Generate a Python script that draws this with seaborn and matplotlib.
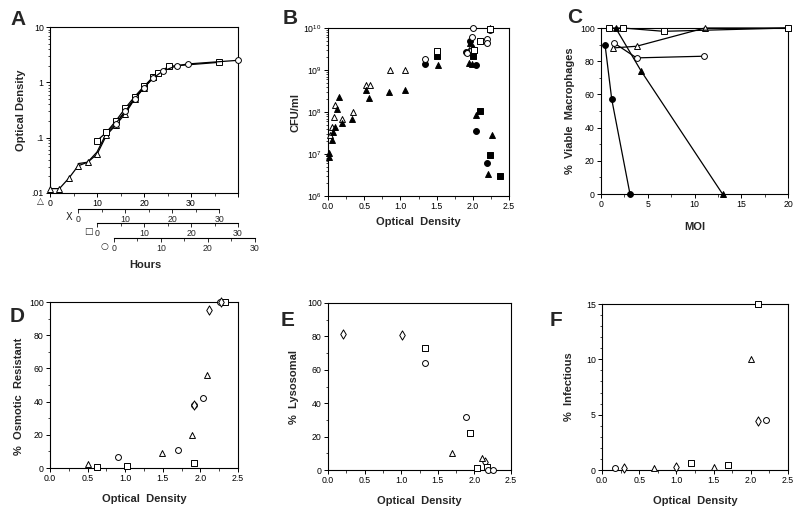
import matplotlib
matplotlib.use("Agg")
import matplotlib.pyplot as plt
import seaborn as sns
from matplotlib.ticker import MultipleLocator, FixedLocator, FixedFormatter, LogLocator, NullFormatter

sns.set_theme(style="white")
plt.rcParams["font.family"] = ["Liberation Sans", "DejaVu Sans"]
plt.rcParams["mathtext.fontset"] = "custom"
plt.rcParams["mathtext.rm"] = "Liberation Sans"

# ---------------- Panel A (hours, each series on its own time scale) -------------
a_offsets = {"tri": 0.0, "x": 6.0, "sq": 10.0, "circ": 13.6}
a_tri_hours = [0, 2, 4, 6, 8, 10, 12, 14, 16, 18, 20, 22]
a_tri_od = [0.012, 0.012, 0.0185, 0.031, 0.036, 0.05, 0.11, 0.17, 0.27, 0.5, 0.8, 1.25]
a_x_hours = [0, 2, 4, 6, 8, 10, 12, 14, 16]
a_x_od = [0.034, 0.036, 0.055, 0.12, 0.18, 0.3, 0.52, 0.82, 1.27]
a_sq_hours = [0, 2, 4, 6, 8, 10, 12, 13, 15.4, 26]
a_sq_od = [0.088, 0.125, 0.2, 0.34, 0.55, 0.85, 1.25, 1.5, 1.95, 2.3]
a_circ_hours = [0.4, 2.4, 4.4, 6.4, 8.4, 10.4, 13.4, 15.8, 26.4]
a_circ_od = [0.18, 0.3, 0.5, 0.8, 1.2, 1.6, 2.0, 2.15, 2.5]

# ---------------- Panel B ----------------
b_otri_x = [0.03, 0.06, 0.08, 0.10, 0.20, 0.34, 0.53, 0.58, 0.85, 1.06, 1.95, 2.0, 2.2, 2.24]
b_otri_y = [2.8e7, 4.4e7, 7.4e7, 1.45e8, 6.9e7, 1e8, 4.3e8, 4.3e8, 1e9, 1e9, 3e9, 3e9, 5.3e9, 1e10]
b_ftri_x = [0.01, 0.02, 0.05, 0.07, 0.09, 0.12, 0.15, 0.19, 0.33, 0.53, 0.56, 0.84, 1.06,
            1.52, 1.95, 1.99, 1.96, 2.0, 2.04, 2.26, 2.21]
b_ftri_y = [1.05e7, 8.7e6, 2.1e7, 3.3e7, 4.4e7, 1.2e8, 2.3e8, 5.5e7, 6.7e7, 3.3e8, 2.2e8, 3e8, 3.3e8,
            1.3e9, 1.45e9, 1.4e9, 4.4e9, 3.5e9, 8.7e7, 2.9e7, 3.4e6]
b_fcirc_x = [1.34, 1.91, 1.96, 2.05, 2.05, 2.2]
b_fcirc_y = [1.4e9, 2.7e9, 5.0e9, 1.35e9, 3.6e7, 6.1e6]
b_fsq_x = [1.5, 2.0, 2.1, 2.24, 2.37]
b_fsq_y = [2.1e9, 2.2e9, 1.04e8, 9.3e6, 3e6]
b_ocirc_x = [1.34, 1.92, 1.99, 2.0, 1.99, 2.2, 2.2, 2.24]
b_ocirc_y = [1.8e9, 2.6e9, 6.0e9, 1.0e10, 3e9, 5.6e9, 4.3e9, 9e9]
b_osq_x = [1.5, 2.1, 2.01, 2.24]
b_osq_y = [2.8e9, 4.8e9, 3e9, 9.5e9]

# ---------------- Panel C ----------------
c_fcirc_moi = [0.43, 1.15, 3.1]
c_fcirc_pct = [90, 57, 0]
c_ftri_moi = [1.57, 4.3, 13]
c_ftri_pct = [100, 74, 0]
c_otri_moi = [1.32, 3.8, 11.1, 20]
c_otri_pct = [88, 89, 100, 100]
c_ocirc_moi = [1.39, 3.8, 11]
c_ocirc_pct = [91, 82, 83]
c_osq_moi = [0.86, 2.35, 6.7, 20]
c_osq_pct = [100, 100, 98, 100]

# ---------------- Panel D ----------------
d_tri_x = [0.5, 1.49, 1.89, 2.09]
d_tri_y = [2.4, 9, 20, 56]
d_sq_x = [0.62, 1.03, 1.91, 2.33]
d_sq_y = [0.4, 1.4, 3, 100]
d_circ_x = [0.91, 1.70, 2.03, 2.26, 1.91]
d_circ_y = [6.4, 11, 42, 100, 38]
d_dia_x = [1.91, 2.12, 2.27]
d_dia_y = [38, 95, 100]

# ---------------- Panel E ----------------
e_dia_x = [0.2, 1.01, 2.14]
e_dia_y = [81.4, 81, 4.6]
e_sq_x = [1.32, 1.94, 2.03, 2.17]
e_sq_y = [73, 22, 1, 2]
e_circ_x = [1.33, 1.89, 2.19, 2.26]
e_circ_y = [64, 32, 0, 0]
e_tri_x = [1.7, 2.1]
e_tri_y = [10.4, 7]

# ---------------- Panel F ----------------
f_circ_x = [0.17, 2.2]
f_circ_y = [0.2, 4.5]
f_dia_x = [0.3, 0.99, 2.1]
f_dia_y = [0.2, 0.24, 4.4]
f_tri_x = [0.7, 1.5, 2.0]
f_tri_y = [0.15, 0.24, 10]
f_sq_x = [1.2, 1.7, 2.1]
f_sq_y = [0.66, 0.45, 15]

W, H = 800, 514
fig = plt.figure(figsize=(W / 100, H / 100), dpi=100)
fig.patch.set_facecolor("white")

TICK_FS = 6.3
LAB_FS = 8.0
LET_FS = 15


def px_axes(l, t, r, b):
    return fig.add_axes([l / W, 1 - b / H, (r - l) / W, (b - t) / H])


def style(ax):
    ax.set_facecolor("white")
    for s in ax.spines.values():
        s.set_visible(True)
        s.set_color("black")
        s.set_linewidth(0.8)
    ax.tick_params(axis="both", which="major", direction="out", length=3, width=0.7,
                   labelsize=TICK_FS, pad=1.5, colors="black", bottom=True, left=True,
                   top=False, right=False)
    ax.tick_params(axis="both", which="minor", direction="out", length=1.8, width=0.6,
                   bottom=True, left=True, top=False, right=False)
    ax.grid(False)


def pts(ax, x, y, marker, filled, s=18):
    sns.scatterplot(x=x, y=y, marker=marker, s=s, color="black" if filled else "white",
                    edgecolor="black", linewidth=0.7, ax=ax, zorder=3, clip_on=False, legend=False)


def line(ax, x, y, marker, filled, ms=4.2):
    sns.lineplot(x=x, y=y, sort=False, estimator=None, color="black", lw=0.9, marker=marker,
                 markersize=ms, markerfacecolor="black" if filled else "white",
                 markeredgecolor="black", markeredgewidth=0.7, ax=ax, zorder=3, clip_on=False)


def od_xaxis(ax):
    ax.set_xlim(0, 2.5)
    ax.xaxis.set_major_locator(MultipleLocator(0.5))
    ax.xaxis.set_minor_locator(MultipleLocator(0.25))
    ax.xaxis.set_major_formatter(matplotlib.ticker.FormatStrFormatter("%.1f"))


def ylab(ax, text, xfrac, yfrac=0.5):
    ax.set_ylabel(text, fontsize=LAB_FS, fontweight="bold")
    ax.yaxis.set_label_coords(xfrac, yfrac)


def xlab(ax, text, yfrac):
    ax.set_xlabel(text, fontsize=LAB_FS, fontweight="bold")
    ax.xaxis.set_label_coords(0.5, yfrac)


# ================= A =================
axA = px_axes(50, 27, 238, 193)
style(axA)
axA.set_yscale("log")
axA.set_ylim(0.01, 10)
axA.set_xlim(0, 40)
axA.yaxis.set_major_locator(FixedLocator([0.01, 0.1, 1, 10]))
axA.yaxis.set_major_formatter(FixedFormatter([".01", ".1", "1", "10"]))
axA.yaxis.set_minor_locator(LogLocator(base=10, subs=range(2, 10)))
axA.yaxis.set_minor_formatter(NullFormatter())
axA.xaxis.set_major_locator(FixedLocator([0, 10, 20, 30, 40]))
axA.xaxis.set_major_formatter(FixedFormatter(["0", "10", "20", "30", ""]))
axA.xaxis.set_minor_locator(MultipleLocator(5))
line(axA, [h + a_offsets["x"] for h in a_x_hours], a_x_od, None, False)
line(axA, [h + a_offsets["tri"] for h in a_tri_hours], a_tri_od, "^", False)
line(axA, [h + a_offsets["sq"] for h in a_sq_hours], a_sq_od, "s", False)
line(axA, [h + a_offsets["circ"] for h in a_circ_hours], a_circ_od, "o", False)
axA.set_xlabel("")
ylab(axA, "Optical Density", -0.13)
fig.text(40 / W, 1 - 202 / H, "\u25B3", fontsize=6.5, ha="center", va="center", family=["DejaVu Sans"])

# secondary time scales under A
px_per_h = 188 / 40.0
for key, ypx, sym in [("x", 209, "X"), ("sq", 223, "\u25A1"), ("circ", 238, "\u25CB")]:
    l = 50 + a_offsets[key] * px_per_h
    r = l + 30 * px_per_h
    ax2 = fig.add_axes([l / W, 1 - ypx / H, (r - l) / W, 0.0001])
    ax2.set_facecolor("none")
    for s in ["left", "right", "top"]:
        ax2.spines[s].set_visible(False)
    ax2.spines["bottom"].set_color("black")
    ax2.spines["bottom"].set_linewidth(0.8)
    ax2.set_xlim(0, 30)
    ax2.set_yticks([])
    ax2.xaxis.set_major_locator(FixedLocator([0, 10, 20, 30]))
    ax2.xaxis.set_minor_locator(MultipleLocator(5))
    ax2.tick_params(axis="x", which="major", direction="out", length=3, width=0.7,
                    labelsize=TICK_FS, pad=1.5, bottom=True)
    ax2.tick_params(axis="x", which="minor", direction="out", length=1.8, width=0.6, bottom=True)
    fig.text((l - 9) / W, 1 - (ypx + 8.5) / H, sym, fontsize=7 if sym == "X" else 6.5,
             ha="center", va="center", family=["DejaVu Sans"])
fig.text(145 / W, 1 - 265 / H, "Hours", fontsize=LAB_FS, fontweight="bold", ha="center", va="center")

# ================= B =================
axB = px_axes(328, 28, 509, 196)
style(axB)
axB.set_yscale("log")
axB.set_ylim(1e6, 1e10)
axB.yaxis.set_major_locator(LogLocator(base=10, numticks=10))
axB.yaxis.set_minor_locator(LogLocator(base=10, subs=range(2, 10), numticks=10))
axB.yaxis.set_minor_formatter(NullFormatter())
od_xaxis(axB)
pts(axB, b_otri_x, b_otri_y, "^", False)
pts(axB, b_ftri_x, b_ftri_y, "^", True)
pts(axB, b_fcirc_x, b_fcirc_y, "o", True)
pts(axB, b_fsq_x, b_fsq_y, "s", True)
pts(axB, b_ocirc_x, b_ocirc_y, "o", False)
pts(axB, b_osq_x, b_osq_y, "s", False)
ylab(axB, "CFU/ml", -0.15)
xlab(axB, "Optical  Density", -0.125)

# ================= C =================
axC = px_axes(601, 28, 788, 194)
style(axC)
axC.set_xlim(0, 20)
axC.set_ylim(0, 100)
axC.xaxis.set_major_locator(MultipleLocator(5))
axC.xaxis.set_minor_locator(MultipleLocator(2.5))
axC.yaxis.set_major_locator(MultipleLocator(20))
axC.yaxis.set_minor_locator(MultipleLocator(10))
line(axC, c_fcirc_moi, c_fcirc_pct, "o", True)
line(axC, c_ftri_moi, c_ftri_pct, "^", True)
line(axC, c_otri_moi, c_otri_pct, "^", False)
line(axC, c_ocirc_moi, c_ocirc_pct, "o", False)
line(axC, c_osq_moi, c_osq_pct, "s", False)
ylab(axC, "%  Viable  Macrophages", -0.14)
xlab(axC, "MOI", -0.169)

# ================= D =================
axD = px_axes(50, 302, 238, 468)
style(axD)
od_xaxis(axD)
axD.set_ylim(0, 100)
axD.yaxis.set_major_locator(MultipleLocator(20))
axD.yaxis.set_minor_locator(MultipleLocator(10))
pts(axD, d_tri_x, d_tri_y, "^", False)
pts(axD, d_sq_x, d_sq_y, "s", False)
pts(axD, d_circ_x, d_circ_y, "o", False)
pts(axD, d_dia_x, d_dia_y, "d", False, s=22)
ylab(axD, "%  Osmotic  Resistant", -0.14, 0.43)
xlab(axD, "Optical  Density", -0.157)

# ================= E =================
axE = px_axes(328, 303, 511, 470)
style(axE)
od_xaxis(axE)
axE.set_ylim(0, 100)
axE.yaxis.set_major_locator(MultipleLocator(20))
axE.yaxis.set_minor_locator(MultipleLocator(10))
pts(axE, e_dia_x, e_dia_y, "d", False, s=22)
pts(axE, e_sq_x, e_sq_y, "s", False)
pts(axE, e_circ_x, e_circ_y, "o", False)
pts(axE, e_tri_x, e_tri_y, "^", False)
ylab(axE, "%  Lysosomal", -0.16)
xlab(axE, "Optical  Density", -0.156)

# ================= F =================
axF = px_axes(602, 304, 788, 470)
style(axF)
od_xaxis(axF)
axF.set_ylim(0, 15)
axF.yaxis.set_major_locator(MultipleLocator(5))
axF.yaxis.set_minor_locator(MultipleLocator(1))
pts(axF, f_circ_x, f_circ_y, "o", False)
pts(axF, f_dia_x, f_dia_y, "d", False, s=22)
pts(axF, f_tri_x, f_tri_y, "^", False)
pts(axF, f_sq_x, f_sq_y, "s", False)
ylab(axF, "%  Infectious", -0.15)
xlab(axF, "Optical  Density", -0.157)

# panel letters
for letter, x, y in [("A", 10, 10), ("B", 283, 9), ("C", 567, 8),
                     ("D", 10, 307), ("E", 281, 311), ("F", 550, 311)]:
    fig.text(x / W, 1 - y / H, letter, fontsize=LET_FS, fontweight="bold", ha="left", va="top")

fig.savefig("out.png", dpi=100, facecolor="white")
